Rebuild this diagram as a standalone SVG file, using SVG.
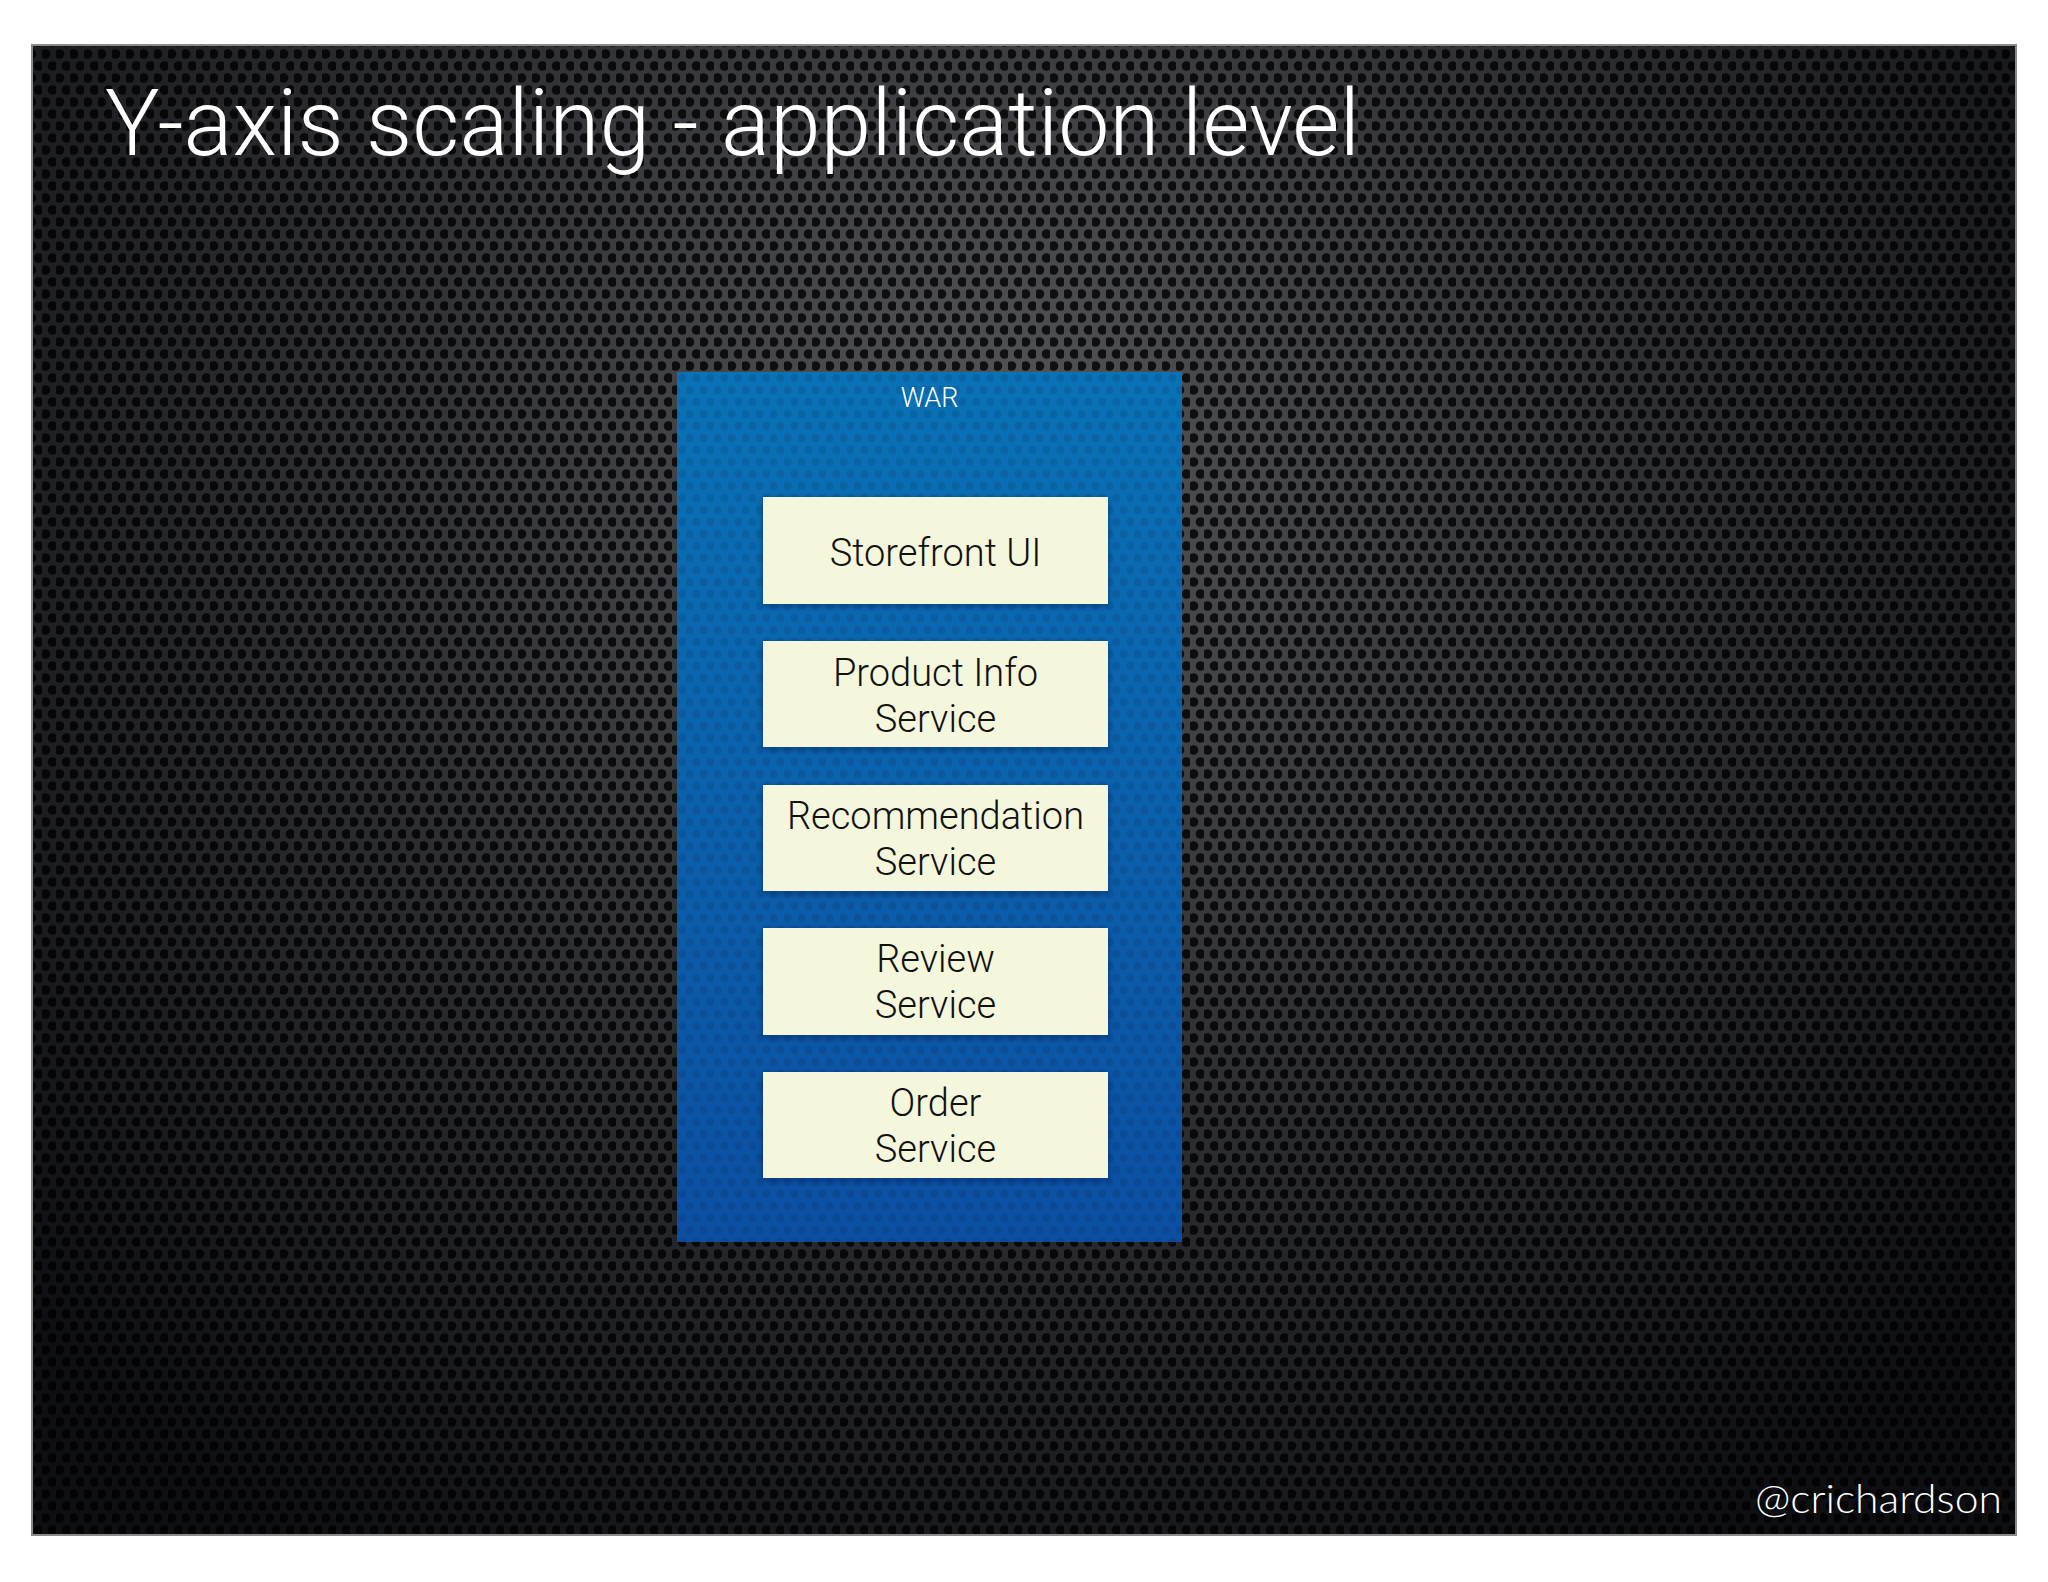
<svg xmlns="http://www.w3.org/2000/svg" width="2048" height="1582" viewBox="0 0 2048 1582">
  <defs>
    <radialGradient id="bgGrad" cx="1000" cy="460" r="1300" gradientUnits="userSpaceOnUse">
      <stop offset="0" stop-color="#55565a"/>
      <stop offset="0.45" stop-color="#323337"/>
      <stop offset="1" stop-color="#0e0f12"/>
    </radialGradient>
    <linearGradient id="warGrad" x1="0" y1="0" x2="0" y2="1">
      <stop offset="0" stop-color="#0a72b6"/>
      <stop offset="1" stop-color="#0c4fa2"/>
    </linearGradient>
    <pattern id="holes" width="14" height="24" patternUnits="userSpaceOnUse">
      <circle cx="3.5" cy="6" r="4.8" fill="#000" fill-opacity="0.8"/>
      <circle cx="10.5" cy="18" r="4.8" fill="#000" fill-opacity="0.8"/>
    </pattern>
    <pattern id="holesLight" width="14" height="24" patternUnits="userSpaceOnUse">
      <circle cx="3.5" cy="6" r="4.2" fill="#001030" fill-opacity="0.12"/>
      <circle cx="10.5" cy="18" r="4.2" fill="#001030" fill-opacity="0.12"/>
    </pattern>
    <filter id="shadow" x="-10%" y="-10%" width="120%" height="130%">
      <feDropShadow dx="0" dy="2" stdDeviation="3" flood-color="#001a40" flood-opacity="0.45"/>
    </filter>
    <style>
      .title { font-family: Roboto, "Liberation Sans", Arial, sans-serif; font-weight: 300; font-size: 92px; fill: #ffffff; }
      .war-label { font-family: Roboto, "Liberation Sans", Arial, sans-serif; font-weight: 300; font-size: 27px; fill: #ffffff; }
      .svc { fill: #f5f7dc; filter: url(#shadow); }
      .svc-text { font-family: Roboto, "Liberation Sans", Arial, sans-serif; font-weight: 300; font-size: 38px; fill: #111111; text-anchor: middle; }
      .handle { font-family: "Lato", "Open Sans", "Liberation Sans", sans-serif; font-weight: 300; font-size: 40px; fill: #ffffff; }
    </style>
  </defs>

  <rect x="0" y="0" width="2048" height="1582" fill="#ffffff"/>

  <g id="slide">
    <rect x="32" y="45" width="1984" height="1490" fill="url(#bgGrad)"/>
    <rect x="32" y="45" width="1984" height="1490" fill="url(#holes)"/>
    <rect x="32" y="45" width="1984" height="1490" fill="none" stroke="#8a8a8a" stroke-width="2"/>
  </g>

  <text class="title" x="105" y="155" textLength="1255" lengthAdjust="spacingAndGlyphs">Y-axis scaling - application level</text>

  <g id="war">
    <rect x="677" y="372" width="505" height="870" fill="url(#warGrad)"/>
    <rect x="677" y="372" width="505" height="870" fill="url(#holesLight)"/>
    <text class="war-label" x="929.5" y="407" text-anchor="middle">WAR</text>
  </g>

  <g id="connectors"></g>

  <g id="storefront-ui">
    <rect class="svc" x="763" y="497" width="345" height="107"/>
    <text class="svc-text" x="935.5" y="566">Storefront UI</text>
  </g>

  <g id="product-info-service">
    <rect class="svc" x="763" y="641" width="345" height="106"/>
    <text class="svc-text" x="935.5" y="686">Product Info</text>
    <text class="svc-text" x="935.5" y="732">Service</text>
  </g>

  <g id="recommendation-service">
    <rect class="svc" x="763" y="785" width="345" height="106"/>
    <text class="svc-text" x="935.5" y="829">Recommendation</text>
    <text class="svc-text" x="935.5" y="875">Service</text>
  </g>

  <g id="review-service">
    <rect class="svc" x="763" y="928" width="345" height="107"/>
    <text class="svc-text" x="935.5" y="972">Review</text>
    <text class="svc-text" x="935.5" y="1018">Service</text>
  </g>

  <g id="order-service">
    <rect class="svc" x="763" y="1072" width="345" height="106"/>
    <text class="svc-text" x="935.5" y="1116">Order</text>
    <text class="svc-text" x="935.5" y="1162">Service</text>
  </g>

  <text class="handle" x="1755" y="1513" textLength="247" lengthAdjust="spacingAndGlyphs">@crichardson</text>
</svg>
